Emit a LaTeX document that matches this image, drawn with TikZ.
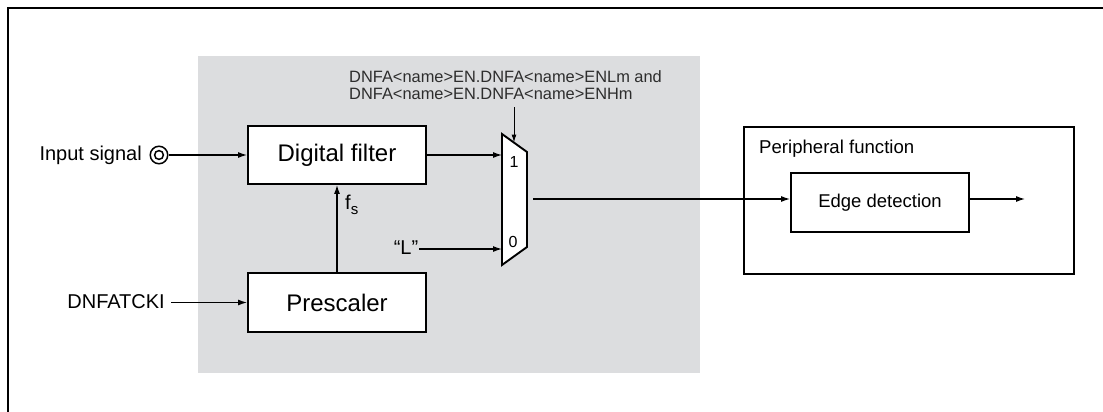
\documentclass[tikz,border=0pt]{standalone}
\usepackage{fontspec}
\setmainfont{Liberation Sans}
\usetikzlibrary{arrows.meta}
\definecolor{bgshade}{RGB}{220,221,223}
\definecolor{labelgray}{RGB}{45,45,45}
\tikzset{
  x=1pt, y=-1pt,
  blockbox/.style={draw, line width=1.9pt, fill=white, minimum width=178pt, minimum height=58pt, inner sep=0pt, font=\fontsize{24}{24}\selectfont},
  smallbox/.style={draw, line width=1.9pt, fill=white, minimum width=178pt, minimum height=59pt, inner sep=0pt, font=\fontsize{18.5}{18.5}\selectfont},
  sig/.style={line width=1.2pt, -{Latex[length=9pt,width=6pt]}},
  lbl/.style={inner sep=0pt, font=\fontsize{20}{20}\selectfont},
  muxlbl/.style={inner sep=0pt, font=\fontsize{16}{16}\selectfont},
}
\begin{document}
\begin{tikzpicture}
\useasboundingbox (0,0) rectangle (1103,412);
% outer frame (top and left only)
\draw[line width=2.4pt] (1103,8) -- (8,8) -- (8,412);
% shaded region
\fill[bgshade] (198,56) rectangle (700,373);
% blocks
\node[blockbox] (df) at (337,155) {Digital filter};
\node[blockbox, minimum height=59pt] (pre) at (337,302.5) {Prescaler};
% peripheral function frame
\draw[line width=1.9pt] (744,127) rectangle (1074,274);
\node[lbl, anchor=west, font=\fontsize{18.6}{18.6}\selectfont] (pf) at (759,149) {Peripheral function};
\node[smallbox] (edge) at (880,202.5) {Edge detection};
% input terminal
\node[circle, draw, line width=1.5pt, minimum size=17.5pt, inner sep=0pt] (term) at (159,155) {};
\draw[line width=1.5pt] (term.center) circle (4.4pt);
\node[lbl, anchor=east] (insig) at (142,155) {Input signal};
\node[lbl, anchor=east] (ck) at (165,302) {DNFATCKI};
\node[lbl] (lv) at (406,248) {“L”};
% multiplexer
\coordinate (m1) at (502,134);
\coordinate (m2) at (527,152);
\coordinate (m3) at (527,247);
\coordinate (m4) at (502,265);
\draw[line width=1.9pt, fill=white, line join=miter] (m1) -- (m2) -- (m3) -- (m4) -- cycle;
\node[muxlbl] (one) at (514,162) {1};
\node[muxlbl] (zero) at (513,242) {0};
\coordinate (in1) at (502,155);
\coordinate (in0) at (502,249);
\coordinate (sel) at (514,142.5);
\coordinate (mout) at (533,199);
% select label
\node[inner sep=0pt, anchor=west, align=left, text=labelgray, font=\fontsize{16.4}{17}\selectfont] (dnfa) at (349,85.5) {DNFA<name>EN.DNFA<name>ENLm and\\DNFA<name>EN.DNFA<name>ENHm};
\coordinate (selt) at (514,107);
% fs label
\node[lbl, anchor=west] (fs) at (345,205) {f\raisebox{-0.45ex}{\fontsize{15}{15}\selectfont s}};
% connectors
\draw[sig] (term.east) -- (df.west);
\draw[sig] ([xshift=6pt]ck.east |- pre.west) -- (pre.west);
\draw[sig] (pre.north) -- (df.south);
\draw[sig] (df.east) -- (in1);
\draw[sig] ([xshift=1pt]lv.east |- in0) -- (in0);
\draw[line width=1.0pt, -{Latex[length=8pt,width=5pt]}] (selt) -- (sel);
\draw[sig] (mout) -- (mout -| edge.west);
\coordinate (outend) at (1025,199);
\draw[sig] (edge.east |- outend) -- (outend);
\end{tikzpicture}
\end{document}
